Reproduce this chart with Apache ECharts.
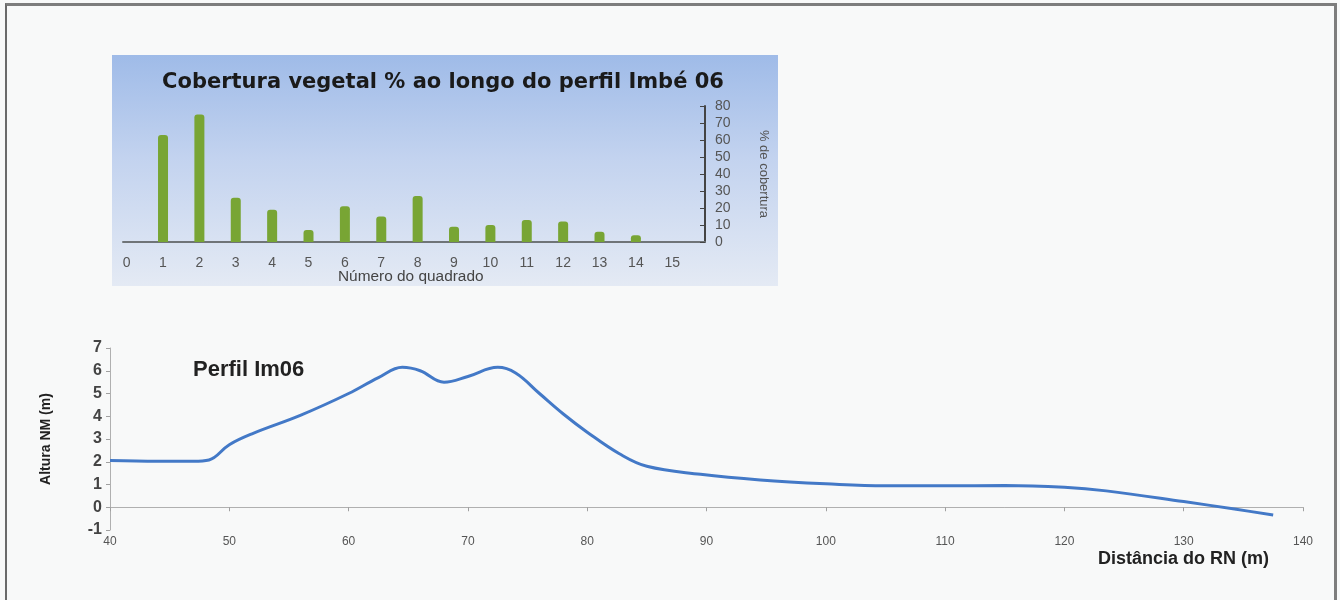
<!DOCTYPE html>
<html>
<head>
<meta charset="utf-8">
<script src="https://cdn.jsdelivr.net/npm/echarts@6/dist/echarts.min.js"></script>
<style>
html,body{margin:0;padding:0;background:#f8f9f9;}
#wrap{position:relative;width:1340px;height:600px;overflow:hidden;}
#frame{position:absolute;left:5px;top:3px;width:1327px;height:620px;border-top:3px solid #7d7d7d;border-left:2px solid #6a6a6a;border-right:3px solid #7d7d7d;}
#panel{position:absolute;left:112px;top:55px;width:666px;height:231px;background:linear-gradient(to bottom,#9fbbe8 0%,#c3d3ef 45%,#e4eaf4 100%);}
#chart{position:absolute;left:0;top:0;width:1340px;height:600px;}
</style>
</head>
<body>
<div id="wrap">
<div id="frame"></div>
<div id="panel"></div>
<div id="chart"></div>
</div>
<script>
// Inset bar chart data
var quadrados = [1,2,3,4,5,6,7,8,9,10,11,12,13,14];
var cobertura = [63,75,26,19,7,21,15,27,9,10,13,12,6,4];
var quadradoTicks = [0,1,2,3,4,5,6,7,8,9,10,11,12,13,14,15];
// Profile line data
var distancia = [40,44,47,48.3,50,52,56,60,62.5,64.5,66,68,70,72.5,74,76,78,80,82.7,85,89.5,94.5,100,105,110,115,120,123.5,130,134.4,137.5];
var altura    = [2.05,2.02,2.02,2.08,2.75,3.25,4.05,5.0,5.7,6.15,6.0,5.5,5.75,6.15,5.9,5.0,4.1,3.3,2.35,1.8,1.45,1.2,1.03,0.94,0.94,0.96,0.88,0.72,0.25,-0.09,-0.34];

var barData = quadrados.map(function(q,i){return [q,cobertura[i]];});
var lineData = distancia.map(function(d,i){return [d,altura[i]];});

var chart = echarts.init(document.getElementById('chart'), null, {renderer:'canvas'});
chart.setOption({
  backgroundColor:'transparent',
  animation:false,
  title:{
    text:'Cobertura vegetal % ao longo do perfil Imbé 06',
    left:438, top:67, textAlign:'center',
    textStyle:{fontFamily:'DejaVu Sans',fontWeight:'bold',fontSize:21,color:'#1a1a1a'}
  },
  grid:[
    {left:123, top:106, width:582, height:136},
    {left:110, top:348, width:1193, height:182}
  ],
  xAxis:[
    {type:'value', gridIndex:0, min:-0.1, max:15.9,
     splitLine:{show:false},
     axisLine:{show:true,onZero:false,lineStyle:{color:'#6f7478',width:2}},
     axisTick:{show:false},
     axisLabel:{customValues:quadradoTicks, margin:14, color:'#555', fontSize:14, fontFamily:'Liberation Sans'}
    },
    {type:'value', gridIndex:1, min:40, max:140, interval:10,
     splitLine:{show:false},
     axisLine:{show:true,onZero:true,lineStyle:{color:'#b0b0b0',width:1}},
     axisTick:{show:true,inside:false,length:4,lineStyle:{color:'#a0a0a0'}},
     axisLabel:{color:'#555',fontSize:12,margin:6,fontFamily:'Liberation Sans'}
    }
  ],
  yAxis:[
    {type:'value', gridIndex:0, position:'right', min:0, max:80, interval:10,
     splitLine:{show:false},
     axisLine:{show:true,onZero:false,lineStyle:{color:'#444',width:2}},
     axisTick:{show:true,inside:true,length:5,lineStyle:{color:'#444'}},
     axisLabel:{color:'#555',fontSize:14,margin:10,fontFamily:'Liberation Sans'},
     name:'% de cobertura', nameLocation:'middle', nameRotate:-90, nameGap:52,
     nameTextStyle:{color:'#555',fontSize:13,fontFamily:'Liberation Sans',padding:[0,0,0,0]}
    },
    {type:'value', gridIndex:1, min:-1, max:7, interval:1,
     splitLine:{show:false},
     axisLine:{show:true,onZero:false,lineStyle:{color:'#b0b0b0',width:1}},
     axisTick:{show:true,length:4,lineStyle:{color:'#a0a0a0'}},
     axisLabel:{color:'#444',fontSize:16,fontWeight:'bold',margin:8,fontFamily:'Liberation Sans'},
     name:'Altura NM (m)', nameLocation:'middle', nameRotate:90, nameGap:57,
     nameTextStyle:{color:'#222',fontSize:14,fontWeight:'bold',fontFamily:'Liberation Sans'}
    }
  ],
  graphic:[
    {type:'text', left:338, top:270, style:{text:'Número do quadrado', fill:'#444', font:'14px "Liberation Sans"'}, scaleX:1.1},
    {type:'text', left:193, top:359, style:{text:'Perfil Im06', fill:'#222', font:'bold 22px "Liberation Sans"'}},
    {type:'text', left:1098, top:550, style:{text:'Distância do RN (m)', fill:'#222', font:'bold 18px "Liberation Sans"'}}
  ],
  series:[
    {type:'bar', xAxisIndex:0, yAxisIndex:0, data:barData, barWidth:10,
     itemStyle:{color:'#78a534', borderRadius:[3,3,0,0]}},
    {type:'line', xAxisIndex:1, yAxisIndex:1, data:lineData, smooth:0.4, showSymbol:false,
     lineStyle:{color:'#4379c7', width:3}}
  ]
});
</script>
</body>
</html>
